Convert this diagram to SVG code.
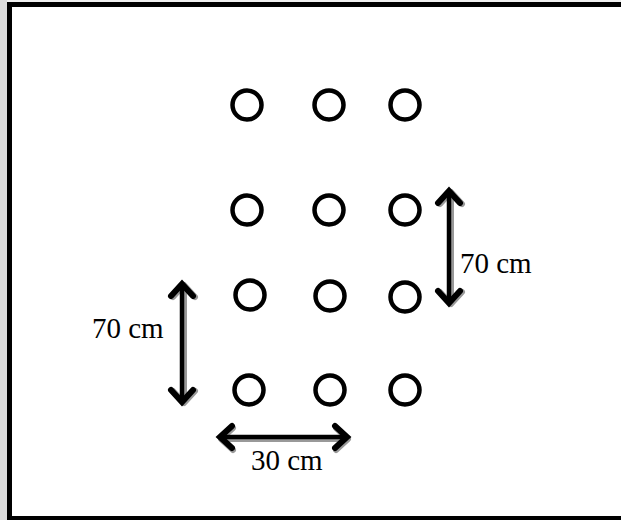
<svg xmlns="http://www.w3.org/2000/svg" width="621" height="520" viewBox="0 0 621 520">
<defs>
<style>
.pt{fill:none;stroke:#000;stroke-width:4.5}
.sh{fill:none;stroke:#999;stroke-width:6;stroke-linecap:round;stroke-linejoin:round}
.ar{fill:none;stroke:#000;stroke-width:4.5;stroke-linejoin:miter}
.hd{fill:none;stroke:#000;stroke-width:6;stroke-linecap:round;stroke-linejoin:miter}
</style>
</defs>
<rect x="0" y="0" width="621" height="520" fill="#f0f0f0"/>
<rect x="0" y="0" width="7" height="520" fill="#dcdcdc"/>
<rect x="9.5" y="4.5" width="620" height="514" fill="#fff" stroke="#000" stroke-width="5"/>
<g id="plants">
<g id="r1c1"><circle class="pt" cx="247" cy="105" r="14.5"/></g>
<g id="r1c2"><circle class="pt" cx="329" cy="105" r="14.5"/></g>
<g id="r1c3"><circle class="pt" cx="405" cy="105" r="14.5"/></g>
<g id="r2c1"><circle class="pt" cx="247" cy="210" r="14.5"/></g>
<g id="r2c2"><circle class="pt" cx="329" cy="210" r="14.5"/></g>
<g id="r2c3"><circle class="pt" cx="405" cy="210" r="14.5"/></g>
<g id="r3c1"><circle class="pt" cx="250" cy="295" r="14.5"/></g>
<g id="r3c2"><circle class="pt" cx="330" cy="296" r="14.5"/></g>
<g id="r3c3"><circle class="pt" cx="405" cy="297" r="14.5"/></g>
<g id="r4c1"><circle class="pt" cx="249" cy="390" r="14.5"/></g>
<g id="r4c2"><circle class="pt" cx="330" cy="390" r="14.5"/></g>
<g id="r4c3"><circle class="pt" cx="405" cy="390" r="14.5"/></g>
</g>
<g id="connectors">
<g id="dim-right">
<path class="sh" d="M451 193 V303 M440 204 L451 192 L462 204 M440 292 L451 304 L462 292"/>
<path class="ar" d="M449 192 V302"/>
<path class="hd" d="M438 203 L449 191 L460 203 M438 291 L449 303 L460 291"/>
</g>
<g id="dim-left">
<path class="sh" d="M184 286 V402 M173 297 L184 285 L195 297 M173 391 L184 403 L195 391"/>
<path class="ar" d="M182 285 V401"/>
<path class="hd" d="M171 296 L182 284 L193 296 M171 390 L182 402 L193 390"/>
</g>
<g id="dim-bottom">
<path class="sh" d="M222 439 H347 M233 428 L221 439 L233 450 M336 428 L348 439 L336 450"/>
<path class="ar" d="M221 437 H346"/>
<path class="hd" d="M232 426 L220 437 L232 448 M335 426 L347 437 L335 448"/>
</g>
</g>
<g id="labels" font-family="Liberation Serif, Times New Roman, serif" font-size="29" fill="#000">
<text x="460" y="273">70 cm</text>
<text x="92" y="338">70 cm</text>
<text x="251" y="470">30 cm</text>
</g>
</svg>
